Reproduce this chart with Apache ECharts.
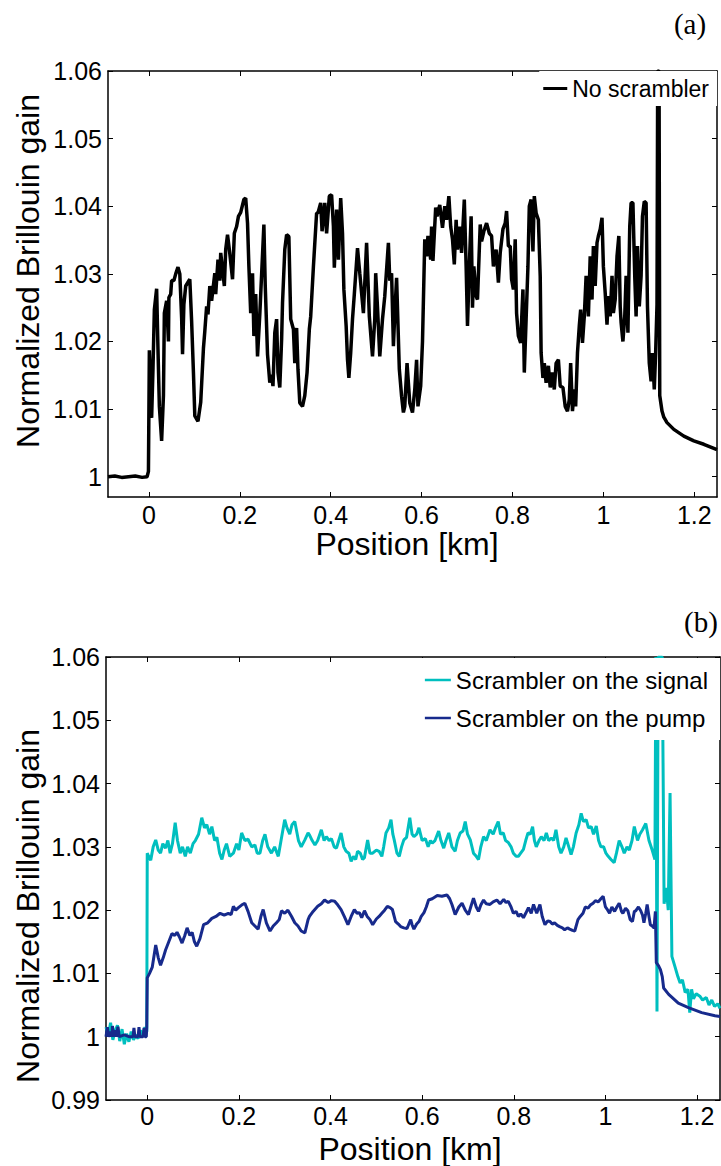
<!DOCTYPE html>
<html>
<head>
<meta charset="utf-8">
<script src="https://cdn.jsdelivr.net/npm/echarts@6/dist/echarts.min.js"></script>
<style>
html,body{margin:0;padding:0;background:#fff;}
#chart{width:721px;height:1166px;}
</style>
</head>
<body>
<div id="chart"></div>
<script>
// ---------- data ----------
const xTicks = [0, 0.2, 0.4, 0.6, 0.8, 1, 1.2];
const yTicksA = [1, 1.01, 1.02, 1.03, 1.04, 1.05, 1.06];
const yTicksB = [0.99, 1, 1.01, 1.02, 1.03, 1.04, 1.05, 1.06];

// panel (a): [position km, normalized gain]
const noScrambler = [
[-0.09,1.0],[-0.075,1.0001],[-0.06,0.9999],[-0.045,1.0],[-0.03,1.0001],[-0.015,0.9999],[-0.004,1.0],[-0.001,1.0008],
[0.001,1.0187],[0.006,1.0087],[0.009,1.016],[0.012,1.0247],[0.017,1.0278],[0.020,1.0188],[0.023,1.0104],[0.028,1.0053],[0.032,1.012],[0.034,1.0242],[0.039,1.026],[0.043,1.020],[0.044,1.0265],[0.048,1.027],[0.050,1.029],[0.055,1.029],[0.059,1.030],[0.064,1.031],[0.068,1.030],[0.072,1.0235],[0.074,1.0181],[0.077,1.0255],[0.081,1.0282],[0.090,1.0292],[0.094,1.023],[0.098,1.0154],[0.101,1.009],[0.108,1.0082],[0.114,1.011],[0.120,1.019],[0.123,1.0215],[0.127,1.0252],[0.130,1.024],[0.134,1.0282],[0.138,1.026],[0.145,1.0301],[0.147,1.027],[0.152,1.0321],[0.156,1.029],[0.158,1.0331],[0.166,1.0282],[0.169,1.0336],[0.173,1.0358],[0.178,1.033],[0.184,1.0292],[0.188,1.036],[0.193,1.037],[0.197,1.0385],[0.202,1.0391],[0.209,1.041],[0.213,1.0412],[0.217,1.0375],[0.220,1.0311],[0.224,1.0242],[0.228,1.0301],[0.231,1.0208],[0.235,1.027],[0.239,1.0178],[0.244,1.024],[0.253,1.0373],[0.256,1.0282],[0.261,1.0181],[0.266,1.0139],[0.270,1.0151],[0.273,1.0134],[0.277,1.0213],[0.281,1.0233],[0.284,1.0154],[0.288,1.0132],[0.292,1.0203],[0.294,1.0257],[0.299,1.0336],[0.303,1.0358],[0.308,1.0355],[0.312,1.0233],[0.318,1.0218],[0.321,1.0168],[0.325,1.022],[0.328,1.0159],[0.332,1.0109],[0.338,1.0104],[0.343,1.012],[0.348,1.0154],[0.353,1.0218],[0.356,1.0237],[0.362,1.0311],[0.369,1.039],[0.372,1.039],[0.378,1.0405],[0.381,1.0363],[0.387,1.0405],[0.391,1.036],[0.397,1.0415],[0.402,1.0417],[0.406,1.037],[0.408,1.0309],[0.413,1.0395],[0.417,1.0321],[0.422,1.0412],[0.426,1.036],[0.429,1.0277],[0.434,1.0223],[0.437,1.0173],[0.440,1.0146],[0.444,1.0183],[0.448,1.0233],[0.452,1.027],[0.459,1.0338],[0.464,1.0301],[0.472,1.0242],[0.479,1.0346],[0.485,1.0237],[0.492,1.0178],[0.497,1.0233],[0.499,1.0301],[0.503,1.025],[0.508,1.0178],[0.514,1.0233],[0.519,1.0267],[0.527,1.0346],[0.530,1.029],[0.534,1.0301],[0.538,1.0193],[0.541,1.024],[0.545,1.0294],[0.551,1.0159],[0.556,1.0119],[0.560,1.0095],
[0.563,1.0104],[0.568,1.0168],[0.574,1.0109],[0.580,1.0095],[0.585,1.0129],[0.589,1.0173],[0.592,1.0104],[0.598,1.0134],[0.602,1.020],[0.607,1.0351],[0.611,1.0326],[0.614,1.0356],[0.620,1.0321],[0.622,1.037],[0.625,1.0319],[0.631,1.0398],[0.634,1.0385],[0.640,1.0402],[0.646,1.0368],[0.651,1.040],[0.655,1.038],[0.660,1.0415],[0.664,1.037],[0.668,1.0351],[0.672,1.0314],[0.676,1.038],[0.679,1.0336],[0.684,1.037],[0.688,1.0331],[0.694,1.041],[0.698,1.0311],[0.701,1.0223],[0.705,1.0311],[0.709,1.0385],[0.712,1.025],[0.715,1.0311],[0.720,1.0267],[0.723,1.0262],[0.729,1.0373],[0.732,1.0348],[0.737,1.0363],[0.743,1.0375],[0.749,1.036],[0.754,1.0356],[0.758,1.0311],[0.764,1.0336],[0.769,1.0287],[0.773,1.0331],[0.779,1.0366],[0.784,1.0375],[0.787,1.0393],[0.791,1.0341],[0.795,1.0341],[0.798,1.0292],[0.802,1.0277],[0.806,1.0351],[0.809,1.0242],[0.813,1.0208],[0.818,1.0198],[0.823,1.0277],[0.826,1.0154],[0.830,1.0233],[0.834,1.0311],[0.837,1.040],[0.841,1.041],[0.845,1.0333],[0.848,1.0415],[0.852,1.039],[0.857,1.038],[0.861,1.0297],[0.863,1.0183],[0.867,1.0146],[0.870,1.0168],[0.874,1.0139],[0.879,1.0164],[0.883,1.0132],[0.887,1.0154],[0.892,1.0129],[0.896,1.0168],[0.901,1.0173],[0.905,1.0134],[0.911,1.0132],[0.916,1.0104],[0.921,1.0097],[0.925,1.0114],[0.928,1.0168],[0.932,1.0097],[0.936,1.0129],[0.939,1.0104],[0.943,1.0183],[0.947,1.0223],[0.950,1.0247],[0.954,1.0198],[0.958,1.0237],[0.962,1.0297],[0.967,1.0237],[0.971,1.0326],[0.975,1.0262],[0.978,1.0341],[0.982,1.0282],[0.986,1.0346],[0.989,1.0356],[0.993,1.0366],[0.997,1.0383],[1.000,1.0311],[1.004,1.0272],[1.008,1.0225],[1.011,1.0267],[1.015,1.0237],[1.019,1.0297],[1.022,1.0242],[1.026,1.0262],[1.030,1.0326],[1.034,1.0356],[1.037,1.0252],[1.039,1.0228],[1.043,1.020],[1.047,1.0237],[1.050,1.0297],[1.054,1.0213],[1.058,1.037],[1.061,1.0405],[1.065,1.0405],[1.069,1.0297],[1.072,1.0237],[1.075,1.0341],[1.079,1.0252],[1.083,1.0297],[1.086,1.0385],[1.090,1.0407],[1.094,1.0405],[1.097,1.0252],[1.101,1.0168],[1.105,1.0141],[1.108,1.0183],[1.112,1.0129],[1.115,1.0183],[1.118,1.0255],[1.1195,1.06],[1.1225,1.06],[1.124,1.012],[1.129,1.0097],[1.133,1.0088],[1.140,1.008],[1.155,1.007],[1.177,1.006],[1.199,1.0053],[1.221,1.0048],[1.243,1.0042],[1.25,1.004]
];

// panel (b): scrambler on the signal
const scramblerSignal = [
[-0.09,1.0015],[-0.085,1.0002],[-0.08,1.0022],[-0.075,0.9995],[-0.07,1.001],[-0.065,1.0018],[-0.06,0.9993],[-0.055,1.0012],[-0.05,0.9988],[-0.045,1.0005],[-0.04,0.9992],[-0.035,1.0008],[-0.03,0.9995],[-0.025,1.0003],[-0.02,0.9997],[-0.015,1.001],[-0.01,1.0002],[-0.005,1.0015],[-0.001,1.0008],
[0.0,1.029],[0.003,1.0285],[0.0076,1.0279],[0.013,1.030],[0.0185,1.0311],[0.024,1.0295],[0.029,1.029],[0.034,1.0305],[0.04,1.0298],[0.045,1.031],[0.05,1.029],[0.055,1.0305],[0.061,1.0338],[0.066,1.031],[0.072,1.029],[0.077,1.030],[0.083,1.0285],[0.088,1.030],[0.094,1.029],[0.1,1.0305],[0.105,1.031],[0.112,1.032],[0.119,1.0346],[0.125,1.033],[0.13,1.0335],[0.136,1.032],[0.141,1.0332],[0.147,1.031],[0.152,1.0315],[0.158,1.029],[0.163,1.028],[0.168,1.0295],[0.173,1.0305],[0.18,1.0285],[0.188,1.029],[0.195,1.0305],[0.2,1.0295],[0.206,1.0322],[0.213,1.031],[0.22,1.0312],[0.228,1.030],[0.235,1.0303],[0.24,1.029],[0.246,1.029],[0.252,1.031],[0.257,1.032],[0.263,1.030],[0.271,1.029],[0.278,1.030],[0.286,1.0285],[0.292,1.031],[0.3,1.0343],[0.305,1.033],[0.311,1.032],[0.316,1.0335],[0.322,1.034],[0.33,1.031],[0.336,1.030],[0.344,1.0311],[0.351,1.0322],[0.354,1.0319],[0.36,1.031],[0.366,1.0303],[0.372,1.031],[0.38,1.0327],[0.386,1.031],[0.391,1.0316],[0.397,1.031],[0.402,1.0313],[0.408,1.030],[0.413,1.0298],[0.418,1.031],[0.423,1.0322],[0.429,1.030],[0.434,1.0293],[0.44,1.029],[0.445,1.0277],[0.45,1.0285],[0.455,1.028],[0.459,1.0293],[0.465,1.029],[0.47,1.028],[0.474,1.0283],[0.481,1.0311],[0.486,1.029],[0.492,1.029],[0.5,1.0295],[0.506,1.0293],[0.512,1.0285],[0.516,1.030],[0.521,1.0322],[0.527,1.033],[0.532,1.0343],[0.536,1.032],[0.539,1.0311],[0.545,1.029],[0.55,1.0285],[0.555,1.030],[0.56,1.0311],[0.566,1.0315],[0.573,1.0346],[0.578,1.032],[0.582,1.0316],[0.588,1.032],[0.593,1.033],[0.6,1.031],[0.607,1.0313],[0.613,1.030],[0.618,1.031],[0.622,1.0306],[0.628,1.031],[0.636,1.0325],[0.641,1.031],[0.647,1.0298],[0.652,1.031],[0.658,1.0322],[0.665,1.030],[0.672,1.0293],[0.677,1.031],[0.683,1.0322],[0.689,1.0325],[0.694,1.034],[0.699,1.032],[0.705,1.0311],[0.712,1.029],[0.718,1.0285],[0.723,1.028],[0.728,1.030],[0.734,1.0316],[0.74,1.031],[0.748,1.0327],[0.755,1.032],[0.76,1.033],[0.766,1.034],[0.771,1.032],[0.777,1.0322],[0.782,1.031],[0.788,1.0307],[0.794,1.030],[0.799,1.029],[0.805,1.0285],[0.81,1.0285],[0.815,1.029],[0.821,1.0296],[0.826,1.031],[0.831,1.0322],[0.836,1.032],[0.841,1.0332],[0.845,1.031],[0.849,1.030],[0.855,1.031],[0.86,1.0316],[0.866,1.031],[0.871,1.0322],[0.876,1.031],[0.882,1.0314],[0.887,1.031],[0.892,1.0327],[0.898,1.030],[0.903,1.029],[0.909,1.030],[0.914,1.0314],[0.92,1.030],[0.925,1.0288],[0.93,1.030],[0.936,1.0322],[0.942,1.0335],[0.947,1.0353],[0.952,1.034],[0.958,1.0343],[0.963,1.033],[0.969,1.0332],[0.974,1.032],[0.98,1.0333],[0.985,1.031],[0.99,1.030],[0.996,1.030],[1.001,1.029],[1.006,1.0285],[1.012,1.028],[1.019,1.0275],[1.024,1.029],[1.03,1.031],[1.036,1.030],[1.041,1.029],[1.047,1.030],[1.052,1.0295],[1.058,1.031],[1.063,1.0332],[1.07,1.031],[1.075,1.032],[1.081,1.0327],[1.088,1.0337],[1.095,1.031],[1.102,1.0295],[1.108,1.028],
[1.110,1.06],[1.1125,1.004],[1.115,1.06],[1.124,1.06],[1.128,1.021],[1.133,1.0235],[1.137,1.020],[1.141,1.0385],[1.145,1.0127],[1.152,1.011],[1.158,1.0095],[1.163,1.0085],[1.168,1.009],[1.174,1.007],[1.18,1.0075],[1.184,1.0038],[1.188,1.0075],[1.192,1.006],[1.198,1.0068],[1.206,1.0064],[1.212,1.0058],[1.22,1.0062],[1.226,1.005],[1.232,1.0058],[1.238,1.0048],[1.245,1.0052],[1.25,1.0045]
];

// panel (b): scrambler on the pump
const scramblerPump = [
[-0.09,1.0],[-0.087,1.0015],[-0.084,1.0],[-0.08,1.0008],[-0.077,1.0],[-0.076,1.0017],[-0.073,1.0],[-0.07,1.001],[-0.067,1.0],[-0.064,1.0016],[-0.061,1.0],[-0.05,1.0003],[-0.04,1.0],[-0.031,1.0],[-0.029,1.0014],[-0.027,1.0],[-0.02,1.0],[-0.018,1.0015],[-0.016,1.0],[-0.009,1.0],[-0.007,1.0014],[-0.005,1.0],[-0.002,1.0],[-0.001,1.0016],
[0.0,1.0093],[0.005,1.010],[0.011,1.011],[0.0185,1.0145],[0.024,1.0125],[0.029,1.0113],[0.035,1.0125],[0.04,1.0137],[0.047,1.015],[0.054,1.0163],[0.06,1.016],[0.065,1.0165],[0.07,1.0158],[0.076,1.0148],[0.082,1.016],[0.087,1.0172],[0.093,1.016],[0.098,1.0165],[0.103,1.015],[0.108,1.0143],[0.115,1.0155],[0.123,1.0177],[0.132,1.018],[0.141,1.0187],[0.15,1.019],[0.159,1.0195],[0.168,1.0192],[0.177,1.0195],[0.183,1.0193],[0.188,1.0206],[0.193,1.020],[0.199,1.0204],[0.206,1.0208],[0.213,1.0211],[0.22,1.0198],[0.228,1.018],[0.235,1.0175],[0.242,1.017],[0.248,1.019],[0.253,1.0201],[0.26,1.018],[0.268,1.0167],[0.275,1.0175],[0.282,1.018],[0.288,1.0185],[0.293,1.0199],[0.3,1.0195],[0.307,1.020],[0.315,1.019],[0.322,1.018],[0.329,1.0175],[0.336,1.0167],[0.344,1.0164],[0.351,1.0185],[0.354,1.019],[0.362,1.0198],[0.372,1.0206],[0.38,1.021],[0.387,1.0216],[0.395,1.0212],[0.402,1.0215],[0.409,1.0214],[0.416,1.0208],[0.423,1.0201],[0.43,1.019],[0.438,1.0177],[0.445,1.019],[0.452,1.0201],[0.458,1.0195],[0.463,1.0196],[0.468,1.0188],[0.474,1.0199],[0.48,1.019],[0.486,1.0185],[0.492,1.0177],[0.5,1.0186],[0.506,1.019],[0.512,1.0195],[0.518,1.020],[0.524,1.0206],[0.53,1.0204],[0.535,1.0201],[0.542,1.0182],[0.548,1.0178],[0.553,1.0174],[0.56,1.0172],[0.567,1.0171],[0.572,1.018],[0.575,1.0185],[0.578,1.0177],[0.582,1.017],[0.588,1.0178],[0.593,1.0182],[0.598,1.019],[0.604,1.0196],[0.609,1.0205],[0.614,1.0216],[0.622,1.0218],[0.633,1.0223],[0.643,1.0222],[0.654,1.0224],[0.66,1.0218],[0.665,1.0209],[0.672,1.0193],[0.68,1.0205],[0.687,1.0211],[0.694,1.020],[0.701,1.0193],[0.706,1.0205],[0.712,1.0219],[0.718,1.0205],[0.723,1.0198],[0.728,1.0208],[0.734,1.0216],[0.74,1.021],[0.748,1.0209],[0.755,1.0213],[0.763,1.0216],[0.77,1.021],
[0.778,1.0217],[0.783,1.0212],[0.788,1.0214],[0.794,1.0205],[0.799,1.0195],[0.805,1.0198],[0.81,1.019],[0.815,1.0194],[0.821,1.0188],[0.826,1.0195],[0.832,1.0204],[0.838,1.0195],[0.843,1.0209],[0.85,1.0195],[0.857,1.0209],[0.862,1.019],[0.868,1.0177],[0.874,1.0183],[0.879,1.0182],[0.884,1.0178],[0.889,1.018],[0.895,1.0176],[0.9,1.0174],[0.906,1.0172],[0.911,1.0169],[0.917,1.0172],[0.922,1.017],[0.928,1.0168],[0.933,1.0167],[0.94,1.0185],[0.945,1.019],[0.951,1.0195],[0.956,1.0205],[0.962,1.0203],[0.967,1.0208],[0.973,1.0211],[0.978,1.0215],[0.984,1.0213],[0.99,1.0218],[0.995,1.0222],[1.0,1.0205],[1.005,1.020],[1.009,1.0195],[1.014,1.0205],[1.02,1.0198],[1.025,1.0205],[1.03,1.0211],[1.035,1.0198],[1.038,1.0195],[1.044,1.0203],[1.049,1.0199],[1.054,1.0185],[1.059,1.0182],[1.063,1.0198],[1.066,1.0199],[1.072,1.0205],[1.077,1.0199],[1.081,1.0192],[1.084,1.018],[1.088,1.0195],[1.091,1.0209],[1.095,1.019],[1.098,1.0177],[1.102,1.0175],[1.106,1.0172],[1.109,1.0198],[1.111,1.0117],[1.116,1.0112],[1.12,1.0106],[1.124,1.0095],[1.127,1.0077],[1.138,1.0067],[1.159,1.0053],[1.181,1.0046],[1.21,1.0038],[1.239,1.0033],[1.25,1.0032]
];

// ---------- styling ----------
const SANS = "'Liberation Sans',Arial,sans-serif";
const SERIF = "'Liberation Serif','Times New Roman',serif";
const fmt = v => String(+(+v).toFixed(2));

function xAx(grid, pos, showLabel, margin) {
  return {
    gridIndex: grid, type: 'value', position: pos, min: -0.09, max: 1.25,
    axisLine: { show: true, onZero: false, lineStyle: { color: '#000', width: 1.5 } },
    axisTick: { show: true, inside: true, length: 5, customValues: xTicks, lineStyle: { color: '#000', width: 1 } },
    axisLabel: { show: showLabel, customValues: xTicks, formatter: fmt, fontFamily: SANS, fontSize: 25, color: '#000', margin: margin },
    splitLine: { show: false }
  };
}
function yAx(grid, pos, showLabel, min, ticks) {
  return {
    gridIndex: grid, type: 'value', position: pos, min: min, max: 1.06,
    axisLine: { show: true, onZero: false, lineStyle: { color: '#000', width: 1.5 } },
    axisTick: { show: true, inside: true, length: 5, customValues: ticks, lineStyle: { color: '#000', width: 1 } },
    axisLabel: { show: showLabel, customValues: ticks, formatter: fmt, fontFamily: SANS, fontSize: 25, color: '#000', margin: 6 },
    splitLine: { show: false }
  };
}

const chart = echarts.init(document.getElementById('chart'), null, { renderer: 'svg', width: 721, height: 1166 });
chart.setOption({
  animation: false,
  backgroundColor: '#fff',
  grid: [
    { left: 108, top: 71, width: 609, height: 426 },
    { left: 106, top: 657, width: 614, height: 443 }
  ],
  xAxis: [xAx(0, 'bottom', true, 5), xAx(0, 'top', false, 0), xAx(1, 'bottom', true, 3), xAx(1, 'top', false, 0)],
  yAxis: [yAx(0, 'left', true, 0.997, yTicksA), yAx(0, 'right', false, 0.997, yTicksA),
          yAx(1, 'left', true, 0.99, yTicksB), yAx(1, 'right', false, 0.99, yTicksB)],
  legend: [
    {
      data: ['No scrambler'], right: 4, top: 71, orient: 'vertical',
      backgroundColor: '#fff', borderWidth: 0, padding: [6, 8, 6, 4],
      icon: 'rect', itemWidth: 24, itemHeight: 3, itemGap: 5,
      textStyle: { fontFamily: SANS, fontSize: 23, color: '#000' }
    },
    {
      data: ['Scrambler on the signal', 'Scrambler on the pump'], right: 1, top: 658, orient: 'vertical',
      backgroundColor: '#fff', borderWidth: 0, padding: [10, 12, 10, 5],
      icon: 'rect', itemWidth: 26, itemHeight: 2.5, itemGap: 14,
      textStyle: { fontFamily: SANS, fontSize: 24, color: '#000', lineHeight: 24 }
    }
  ],
  graphic: [
    { type: 'text', x: 690, y: 24, style: { text: '(a)', font: "29px " + SERIF, fill: '#000', textAlign: 'center', textVerticalAlign: 'middle' } },
    { type: 'text', x: 701, y: 622, style: { text: '(b)', font: "29px " + SERIF, fill: '#000', textAlign: 'center', textVerticalAlign: 'middle' } },
    { type: 'text', x: 28, y: 271, rotation: Math.PI / 2, style: { text: 'Normalized Brillouin gain', font: "32px " + SANS, fill: '#000', textAlign: 'center', textVerticalAlign: 'middle' } },
    { type: 'text', x: 28, y: 906, rotation: Math.PI / 2, style: { text: 'Normalized Brillouin gain', font: "32px " + SANS, fill: '#000', textAlign: 'center', textVerticalAlign: 'middle' } },
    { type: 'text', x: 407, y: 544, style: { text: 'Position [km]', font: "32px " + SANS, fill: '#000', textAlign: 'center', textVerticalAlign: 'middle' } },
    { type: 'text', x: 410, y: 1149, style: { text: 'Position [km]', font: "32px " + SANS, fill: '#000', textAlign: 'center', textVerticalAlign: 'middle' } }
  ],
  series: [
    { type: 'line', name: 'No scrambler', xAxisIndex: 0, yAxisIndex: 0, data: noScrambler, symbol: 'none',
      lineStyle: { color: '#000', width: 3.5 }, itemStyle: { color: '#000' } },
    { type: 'line', name: 'Scrambler on the signal', xAxisIndex: 2, yAxisIndex: 2, data: scramblerSignal, symbol: 'none',
      lineStyle: { color: '#00bfbf', width: 3 }, itemStyle: { color: '#00bfbf' } },
    { type: 'line', name: 'Scrambler on the pump', xAxisIndex: 2, yAxisIndex: 2, data: scramblerPump, symbol: 'none',
      lineStyle: { color: '#172a8c', width: 3 }, itemStyle: { color: '#172a8c' } }
  ]
});
</script>
</body>
</html>
